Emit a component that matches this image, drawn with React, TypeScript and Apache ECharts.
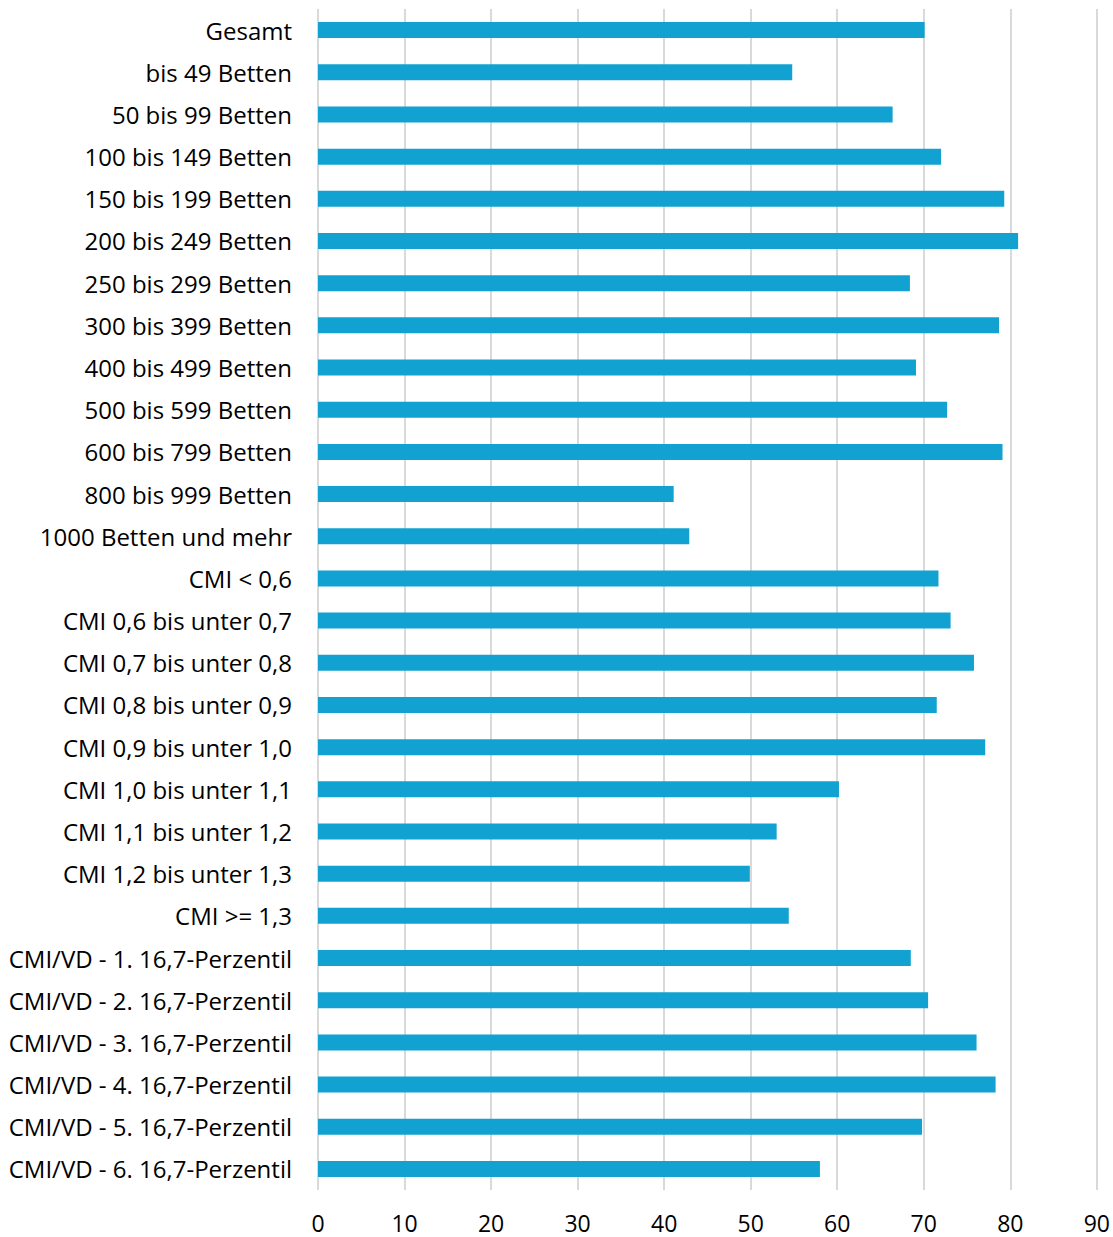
import React, { useEffect, useRef } from "react";
import * as echarts from "echarts";

const categories = [
  "Gesamt",
  "bis 49 Betten",
  "50 bis 99 Betten",
  "100 bis 149 Betten",
  "150 bis 199 Betten",
  "200 bis 249 Betten",
  "250 bis 299 Betten",
  "300 bis 399 Betten",
  "400 bis 499 Betten",
  "500 bis 599 Betten",
  "600 bis 799 Betten",
  "800 bis 999 Betten",
  "1000 Betten und mehr",
  "CMI < 0,6",
  "CMI 0,6 bis unter 0,7",
  "CMI 0,7 bis unter 0,8",
  "CMI 0,8 bis unter 0,9",
  "CMI 0,9 bis unter 1,0",
  "CMI 1,0 bis unter 1,1",
  "CMI 1,1 bis unter 1,2",
  "CMI 1,2 bis unter 1,3",
  "CMI >= 1,3",
  "CMI/VD - 1. 16,7-Perzentil",
  "CMI/VD - 2. 16,7-Perzentil",
  "CMI/VD - 3. 16,7-Perzentil",
  "CMI/VD - 4. 16,7-Perzentil",
  "CMI/VD - 5. 16,7-Perzentil",
  "CMI/VD - 6. 16,7-Perzentil",
];

const values = [
  70.1, 54.8, 66.4, 72.0, 79.3, 80.9, 68.4, 78.7, 69.1, 72.7, 79.1, 41.1, 42.9,
  71.7, 73.1, 75.8, 71.5, 77.1, 60.2, 53.0, 49.9, 54.4, 68.5, 70.5, 76.1, 78.3,
  69.8, 58.0,
];

const xTicks = [0, 10, 20, 30, 40, 50, 60, 70, 80, 90];

export default function App() {
  const ref = useRef<HTMLDivElement>(null);
  useEffect(() => {
    document.body.style.margin = "0";
    const chart = echarts.init(ref.current!, null, { renderer: "svg" });
    const font = "'Open Sans', 'Liberation Sans', sans-serif";
    chart.setOption({
      animation: false,
      grid: { left: 318, right: 16, top: 9, bottom: 47, containLabel: false },
      xAxis: {
        type: "value",
        min: xTicks[0],
        max: xTicks[xTicks.length - 1],
        interval: 10,
        axisLine: { show: false },
        axisTick: { show: false },
        splitLine: { show: true, lineStyle: { color: "#d9d9d9", width: 2 } },
        axisLabel: {
          color: "#000",
          fontSize: 23,
          fontFamily: font,
          margin: 21,
        },
      },
      yAxis: {
        type: "category",
        data: categories,
        inverse: true,
        axisLine: { show: false },
        axisTick: { show: false },
        axisLabel: {
          color: "#000",
          fontSize: 24,
          fontFamily: font,
          margin: 26,
        },
      },
      series: [
        {
          type: "bar",
          data: values,
          barWidth: 16,
          itemStyle: { color: "#12A2D2" },
        },
      ],
    });
    return () => chart.dispose();
  }, []);
  return <div ref={ref} style={{ width: 1113, height: 1237 }} />;
}
